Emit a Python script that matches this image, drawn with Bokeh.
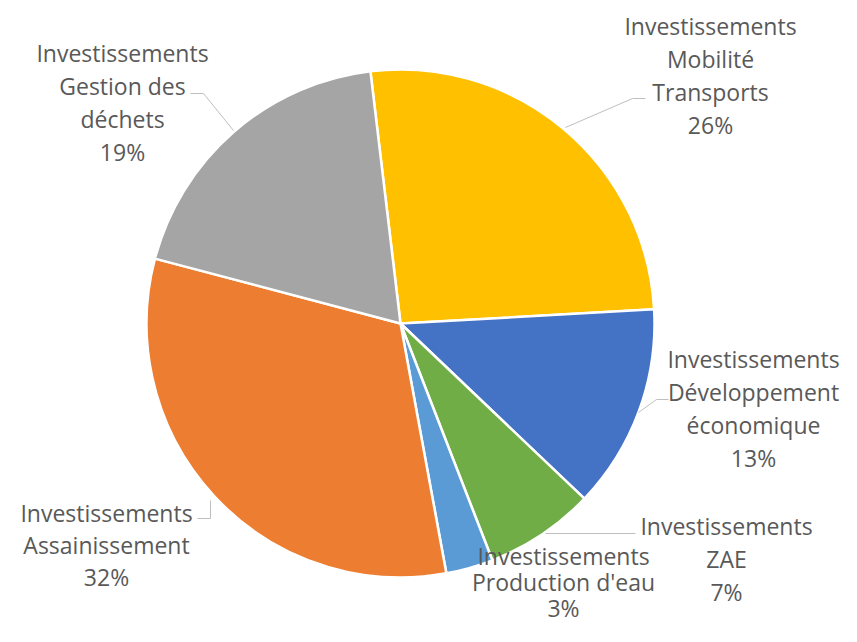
import numpy as np
from bokeh.plotting import figure
from bokeh.models import ColumnDataSource, Range1d
from bokeh.core.properties import value
from bokeh.embed import file_html
from bokeh.resources import INLINE

# ---- data ----
categories = [
    ["Investissements", "Mobilité", "Transports"],
    ["Investissements", "Développement", "économique"],
    ["Investissements", "ZAE"],
    ["Investissements", "Production d'eau"],
    ["Investissements", "Assainissement"],
    ["Investissements", "Gestion des", "déchets"],
]
shares = [26, 13, 7, 3, 32, 19]
colors = ["#FFC000", "#4472C4", "#70AD47", "#5B9BD5", "#ED7D31", "#A5A5A5"]

# ---- layout (picture pixel coordinates, y downwards) ----
W, H = 841, 626
def Y(y):
    return H - y

cx, cy, R = 400, Y(323), 254
first_angle_deg = -6.8  # clockwise from 12 o'clock

label_pos = [(710, 25), (753, 358), (726, 525), (563, 555), (106, 512), (122, 52)]
line_gaps = [33, 33, 33, 26, 32, 33]

leaders = [
    [(565, 127), (632, 98), (645, 98)],
    [(638, 412), (656, 399), (668, 399)],
    [(545, 533), (635, 533)],
    None,
    [(210, 500), (210, 518), (197, 518)],
    [(233, 130), (203, 93), (190, 93)],
]

frac = np.array(shares, dtype=float) / sum(shares)
cum = np.concatenate([[0], np.cumsum(frac)[:-1]])
base = np.deg2rad(90 - first_angle_deg)
start = base - cum * 2 * np.pi
end = start - frac * 2 * np.pi

p = figure(width=W, height=H, x_range=Range1d(0, W), y_range=Range1d(0, H),
           output_backend="svg", toolbar_location=None, min_border=0)
p.axis.visible = False
p.grid.visible = False
p.outline_line_color = None
p.background_fill_color = "white"

src = ColumnDataSource(dict(start=start, end=end, color=colors))
p.wedge(x=cx, y=cy, radius=R, start_angle="start", end_angle="end", direction="clock",
        fill_color="color", line_color="white", line_width=2.5, source=src)

xs, ys = [], []
for L in leaders:
    if L is None:
        continue
    xs.append([a for a, b in L])
    ys.append([Y(b) for a, b in L])
p.multi_line(xs=xs, ys=ys, line_color="#BFBFBF", line_width=1)

tx, ty, tt = [], [], []
for lines, s, (lx, ly), g in zip(categories, shares, label_pos, line_gaps):
    allines = lines + [f"{s}%"]
    for i, t in enumerate(allines):
        tx.append(lx)
        ty.append(Y(ly + i * g))
        tt.append(t)
p.text(x=tx, y=ty, text=tt, text_font=value("Open Sans"), text_font_size="23px",
       text_color="#595959", text_align="center", text_baseline="middle")

open("out.html", "w").write(file_html(p, INLINE))
